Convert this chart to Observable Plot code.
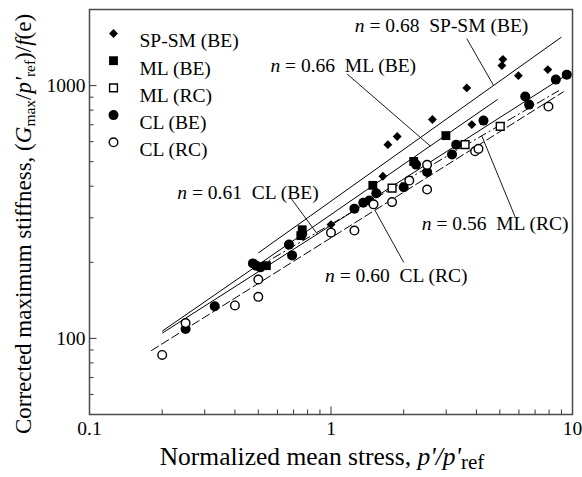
<!DOCTYPE html>
<html>
<head>
<meta charset="utf-8">
<script src="https://cdn.jsdelivr.net/npm/d3@7"></script>
<script src="https://cdn.jsdelivr.net/npm/@observablehq/plot@0.6"></script>
<style>
  body { margin: 0; background: #fff; }
  #chart svg { display: block; }
</style>
</head>
<body>
<div id="chart"></div>
<script>
// Normalized mean stress p'/p'ref (x) and corrected stiffness (Gmax/p'ref)/f(e) (y)
const spsmBE_x = [1.00, 1.64, 1.72, 1.88, 2.63, 3.65, 3.83, 5.10, 5.15, 5.97, 7.90];
const spsmBE_y = [282, 438, 584, 629, 734, 979, 701, 1200, 1270, 1095, 1157];

const mlBE_x = [0.54, 0.75, 0.76, 1.49, 2.20, 2.99];
const mlBE_y = [194, 255, 269, 403, 501, 634];

const mlRC_x = [1.79, 3.59, 5.02];
const mlRC_y = [393, 584, 690];

const clBE_x = [0.25, 0.33, 0.475, 0.49, 0.51, 0.67, 0.69, 0.76, 1.25, 1.36, 1.44, 1.54, 2.00, 2.25, 2.50, 3.17, 3.30, 4.28, 6.37, 6.61, 8.53, 9.47];
const clBE_y = [109, 134, 198, 194, 191, 235, 213, 259, 326, 344, 351, 375, 396, 487, 455, 534, 584, 727, 905, 841, 1056, 1105];

const clRC_x = [0.20, 0.25, 0.40, 0.50, 0.50, 1.00, 1.25, 1.50, 1.79, 2.11, 2.50, 2.50, 3.95, 4.08, 7.95];
const clRC_y = [86, 115, 135, 171, 146, 262, 267, 339, 346, 421, 486, 388, 550, 562, 826];

// Series names (legend order)
const seriesNames = ["SP-SM (BE)", "ML (BE)", "ML (RC)", "CL (BE)", "CL (RC)"];
const seriesX = [spsmBE_x, mlBE_x, mlRC_x, clBE_x, clRC_x];
const seriesY = [spsmBE_y, mlBE_y, mlRC_y, clBE_y, clRC_y];

// Power-law fits G = A * (p'/p'ref)^n, with the x-extent of each fitted line
const fitN  = [0.68, 0.66, 0.56, 0.61, 0.60];
const fitA  = [349, 309, 283, 280, 250];
const fitX0 = [0.5, 0.2, 0.5, 0.2, 0.18];
const fitX1 = [9.0, 4.9, 8.8, 9.5, 9.2];

// Fit annotations: label anchor, leader start, and where the leader meets the fit line
const noteLabelX = [2.87, 1.124, 4.785, 0.453, 1.863];
const noteLabelY = [1726, 1200, 285, 378, 177];
const noteFromX  = [3.65, 1.165, 5.79, 0.679, 2.0];
const noteFromY  = [1534, 1112, 302, 361, 200];
const noteToX    = [4.71, 2.576, 4.21, 0.878, 1.52];

// Axis ticks
const xMajor = [0.1, 1, 10];
const xMinor = [0.2, 0.3, 0.4, 0.5, 0.6, 0.7, 0.8, 0.9, 2, 3, 4, 5, 6, 7, 8, 9];
const yMajor = [100, 1000];
const yMinor = [50, 60, 70, 80, 90, 200, 300, 400, 500, 600, 700, 800, 900, 2000];

// Marker styling per series
const symbolOf = ["diamond2", "square", "square", "circle", "circle"];
const filledOf = [true, true, false, true, false];
const radiusOf = [4, 5, 4.4, 5, 4.3];
const dashOf   = [null, null, "9,3,2,3", null, "9,3"];

const W = 582, H = 477;
const M = {left: 89, right: 10, top: 9, bottom: 63};
const innerW = W - M.left - M.right;
const innerH = H - M.top - M.bottom;
const serif = "'Liberation Serif', 'Times New Roman', serif";

const points = [];
seriesX.forEach((xs, s) => xs.forEach((x, i) => points.push({s, x, y: seriesY[s][i]})));

const fits = fitN.map((n, s) => ({s, n, A: fitA[s], x0: fitX0[s], x1: fitX1[s]}));
const fitSegs = fits.map(f => ({
  s: f.s,
  x1: f.x0, y1: f.A * Math.pow(f.x0, f.n),
  x2: f.x1, y2: f.A * Math.pow(f.x1, f.n)
}));

const notes = fits.map(f => ({
  text: `n = ${f.n.toFixed(2)}  ${seriesNames[f.s]}`,
  lx: noteLabelX[f.s], ly: noteLabelY[f.s],
  fx: noteFromX[f.s], fy: noteFromY[f.s],
  tx: noteToX[f.s], ty: f.A * Math.pow(noteToX[f.s], f.n)
}));

function markerStyle(s) {
  return filledOf[s]
    ? {fill: "black", stroke: "none"}
    : {fill: "white", stroke: "black", strokeWidth: 1.4};
}

const marks = [];

// fitted lines
fitSegs.forEach(seg => {
  marks.push(Plot.link([seg], {
    x1: "x1", y1: "y1", x2: "x2", y2: "y2",
    stroke: "black", strokeWidth: 1,
    strokeDasharray: dashOf[seg.s] || undefined
  }));
});

// data points
seriesNames.forEach((name, s) => {
  marks.push(Plot.dot(points.filter(p => p.s === s), {
    x: "x", y: "y", symbol: symbolOf[s], r: radiusOf[s], ...markerStyle(s)
  }));
});

// leaders and fit labels
marks.push(Plot.link(notes, {x1: "fx", y1: "fy", x2: "tx", y2: "ty", stroke: "black", strokeWidth: 0.9}));
marks.push(Plot.text(notes, {x: "lx", y: "ly", text: "text", fontSize: 19.5, fill: "black"}));

// legend
seriesNames.forEach((name, s) => {
  const dy = 24 + s * 27.2;
  marks.push(Plot.dot([name], {frameAnchor: "top-left", dx: 24, dy, symbol: symbolOf[s], r: radiusOf[s], ...markerStyle(s)}));
  marks.push(Plot.text([name], {frameAnchor: "top-left", dx: 50, dy, text: d => d, textAnchor: "start", fontSize: 19.5, fill: "black"}));
});

// inward tick marks
marks.push(Plot.tickX(xMajor, {x: d => d, insetTop: innerH - 7.5, stroke: "#333", strokeWidth: 1}));
marks.push(Plot.tickX(xMinor, {x: d => d, insetTop: innerH - 4.5, stroke: "#333", strokeWidth: 1}));
marks.push(Plot.tickY(yMajor, {y: d => d, insetRight: innerW - 7.5, stroke: "#333", strokeWidth: 1}));
marks.push(Plot.tickY(yMinor, {y: d => d, insetRight: innerW - 4.5, stroke: "#333", strokeWidth: 1}));

// tick labels
marks.push(Plot.text(xMajor, {x: d => d, frameAnchor: "bottom", dy: 20, text: d => String(d), fontSize: 19.5, fill: "black"}));
marks.push(Plot.text(yMajor, {y: d => d, frameAnchor: "left", dx: -4, textAnchor: "end", text: d => String(d), fontSize: 19.5, fill: "black"}));

marks.push(Plot.frame({stroke: "#4a4a4a", strokeWidth: 1.5}));

const chart = Plot.plot({
  width: W, height: H,
  marginLeft: M.left, marginRight: M.right, marginTop: M.top, marginBottom: M.bottom,
  x: {type: "log", domain: [0.1, 10], axis: null},
  y: {type: "log", domain: [50, 2000], axis: null},
  style: {fontFamily: serif, fontSize: "19.5px", background: "white", color: "black", overflow: "visible"},
  marks
});

const svg = d3.select(chart);

// italic "n" in the fit labels
svg.selectAll("text").each(function() {
  const el = d3.select(this);
  const t = this.textContent;
  if (t.startsWith("n = ")) {
    el.text(null).style("white-space", "pre");
    el.append("tspan").attr("font-style", "italic").text("n");
    el.append("tspan").text(t.slice(1));
  }
});

// x-axis title
const xt = svg.append("text")
  .attr("x", 322).attr("y", 465)
  .attr("text-anchor", "middle")
  .attr("font-family", serif).attr("font-size", 25.5).attr("fill", "black")
  .style("white-space", "pre");
xt.append("tspan").text("Normalized mean stress, ");
xt.append("tspan").attr("font-style", "italic").text("p'/p'");
xt.append("tspan").attr("font-size", 21).attr("dy", 4).text("ref");

// y-axis title
const yt = svg.append("text")
  .attr("transform", "translate(31,224) rotate(-90)")
  .attr("text-anchor", "middle")
  .attr("font-family", serif).attr("font-size", 23).attr("fill", "black")
  .style("white-space", "pre");
yt.append("tspan").text("Corrected maximum stiffness, (");
yt.append("tspan").attr("font-style", "italic").text("G");
yt.append("tspan").attr("font-size", 15.5).attr("dy", 4).text("max");
yt.append("tspan").attr("dy", -4).text("/");
yt.append("tspan").attr("font-style", "italic").text("p'");
yt.append("tspan").attr("font-size", 15.5).attr("dy", 4).text("ref");
yt.append("tspan").attr("dy", -4).text(")/");
yt.append("tspan").attr("font-style", "italic").text("f");
yt.append("tspan").text("(e)");

document.getElementById("chart").appendChild(chart);
</script>
</body>
</html>
